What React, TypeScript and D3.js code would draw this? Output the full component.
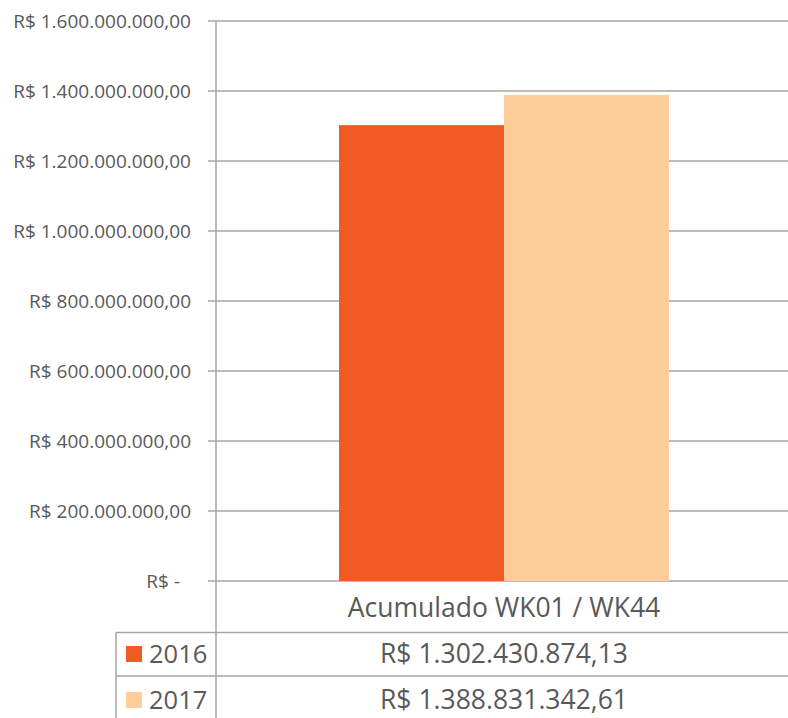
import React from "react";
import * as d3 from "d3";

const categories = ["Acumulado WK01 / WK44"];
const seriesNames = ["2016", "2017"];
const seriesValues = [1302430874.13, 1388831342.61];
const seriesColors = ["#F05A24", "#FECD9A"];
const yTicks = [0, 200000000, 400000000, 600000000, 800000000, 1000000000, 1200000000, 1400000000, 1600000000];

const W = 788;
const H = 718;
const FONT = "'Open Sans', 'Liberation Sans', sans-serif";
const TEXT = "#595959";
const LINE = "#a6a6a6";

const locale = d3.formatLocale({
  decimal: ",",
  thousands: ".",
  grouping: [3],
  currency: ["R$ ", ""],
});
const fmt = locale.format("$,.2f");
const tickLabel = (v: number) => (v === 0 ? "R$ -" : fmt(v));

export default function App() {
  const axisX = 216;
  const right = W;
  const top = 21;
  const bottom = 581;
  const rowLines = [632.5, 676];
  const rowCenters = [607.5, 654, 700];
  const tableLeft = 116;

  const y = d3.scaleLinear().domain([0, 1600000000]).range([bottom, top]);
  const x0 = d3.scaleBand<string>().domain(categories).range([220, right]).paddingInner(0).paddingOuter(0.3606);
  const x1 = d3.scaleBand<string>().domain(seriesNames).range([0, x0.bandwidth()]).padding(0);
  const cx = (x0(categories[0]) as number) + x0.bandwidth() / 2;

  return (
    <svg
      width={W}
      height={H}
      style={{ position: "absolute", left: 0, top: 0, display: "block", background: "#fff" }}
      fontFamily={FONT}
    >
      {yTicks.map((t) => (
        <g key={t}>
          <line x1={208} x2={right} y1={y(t)} y2={y(t)} stroke={LINE} strokeWidth={1.5} />
          <text x={t === 0 ? 180 : 191} y={y(t)} dy="0.35em" textAnchor="end" fontSize={19} fill={TEXT}>
            {tickLabel(t)}
          </text>
        </g>
      ))}
      {categories.map((c) => (
        <g key={c} transform={`translate(${x0(c)},0)`}>
          {seriesNames.map((s, i) => (
            <rect
              key={s}
              x={x1(s)}
              y={y(seriesValues[i])}
              width={x1.bandwidth()}
              height={bottom - y(seriesValues[i])}
              fill={seriesColors[i]}
            />
          ))}
        </g>
      ))}
      <line x1={axisX} x2={axisX} y1={top} y2={H} stroke={LINE} strokeWidth={1.5} />
      <line x1={tableLeft} x2={right} y1={rowLines[0]} y2={rowLines[0]} stroke={LINE} strokeWidth={1.5} />
      <line x1={tableLeft} x2={right} y1={rowLines[1]} y2={rowLines[1]} stroke={LINE} strokeWidth={1.5} />
      <line x1={tableLeft} x2={tableLeft} y1={rowLines[0]} y2={H} stroke={LINE} strokeWidth={1.5} />
      {categories.map((c) => (
        <text key={c} x={cx} y={rowCenters[0]} dy="0.35em" textAnchor="middle" fontSize={26.5} fill={TEXT}>
          {c}
        </text>
      ))}
      {seriesNames.map((s, i) => {
        const cy = rowCenters[i + 1];
        return (
          <g key={s}>
            <rect x={126} y={cy - 8} width={16} height={16} fill={seriesColors[i]} />
            <text x={149} y={cy} dy="0.35em" fontSize={25.5} fill={TEXT}>
              {s}
            </text>
            <text x={cx} y={cy} dy="0.35em" textAnchor="middle" fontSize={26.5} fill={TEXT}>
              {fmt(seriesValues[i])}
            </text>
          </g>
        );
      })}
    </svg>
  );
}
